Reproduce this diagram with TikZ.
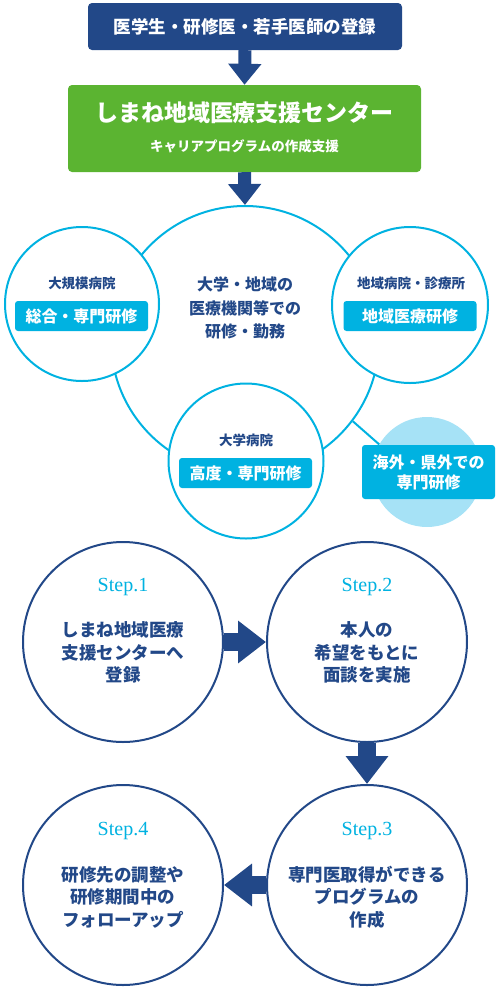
\documentclass[tikz,border=0pt]{standalone}
\usepackage{fontspec}
\setmainfont{Noto Sans CJK JP}
\newfontfamily\stepfont{Liberation Serif}
\usepackage{tikz}
\usetikzlibrary{arrows.meta, positioning}
\definecolor{care_navy}{RGB}{34, 72, 136}
\definecolor{care_green}{RGB}{91, 180, 49}
\definecolor{care_cyan}{RGB}{0, 178, 225}
\definecolor{care_light}{RGB}{166, 226, 246}

\begin{document}
\begin{tikzpicture}[x=1pt, y=-1pt,
        regbox/.style={rectangle, fill=care_navy, rounded corners=4pt, inner sep=0pt,
                       minimum width=314pt, minimum height=47pt},
        greenbox/.style={rectangle, fill=care_green, rounded corners=4pt, inner sep=0pt,
                         minimum width=353pt, minimum height=87pt},
        ring/.style={circle, draw=care_cyan, line width=2pt, fill=white, inner sep=0pt},
        tag/.style={rectangle, fill=care_cyan, rounded corners=3pt, inner sep=0pt,
                    minimum width=133pt, minimum height=30pt, text=white,
                    font=\fontsize{16}{20}\selectfont\bfseries},
        place/.style={text=care_navy, inner sep=0pt, font=\fontsize{13.5}{16}\selectfont\bfseries},
        stepring/.style={circle, draw=care_navy, line width=2pt, fill=white, inner sep=0pt,
                         minimum size=200pt},
        steplabel/.style={text=care_cyan, inner sep=0pt, font=\fontsize{20}{22}\stepfont},
        steptext/.style={text=care_navy, inner sep=0pt, align=center,
                         font=\fontsize{17.5}{22.5}\selectfont\bfseries},
        blockarr/.style={draw=care_navy, line width=13pt, -{Triangle[width=32pt, length=21pt]}},
        steparr/.style={draw=care_navy, line width=18pt, -{Triangle[width=41pt, length=28pt]}},
      ]
        \useasboundingbox (0,0) rectangle (497,989);

        % registration and support centre
        \node[regbox] (reg) at (245, 26.5) {};
        \node[text=white, inner sep=0pt, font=\fontsize{17.5}{20}\selectfont\bfseries]
              (regtext) at (245, 26.5) {医学生・研修医・若手医師の登録};
        \node[greenbox] (centre) at (244.5, 128.5) {};
        \node[text=white, inner sep=0pt, font=\fontsize{23}{26}\selectfont\bfseries]
              (centretitle) at (244.5, 113) {しまね地域医療支援センター};
        \node[text=white, inner sep=0pt, font=\fontsize{13.5}{16}\selectfont\bfseries]
              (centresub) at (244.5, 146) {キャリアプログラムの作成支援};

        % training places
        \node[ring, fill=none, minimum size=268pt] (big) at (245, 340) {};
        \node[circle, fill=care_light, inner sep=0pt, minimum size=110pt] (abroad) at (427, 472) {};
        \draw[care_cyan, line width=2pt] (big.-37) -- (abroad.150);
        \node[ring, minimum size=154pt] (large) at (82, 304) {};
        \node[ring, minimum size=156pt] (local) at (410, 305) {};
        \node[ring, minimum size=155pt] (univ) at (246, 461) {};

        \node[steptext, font=\fontsize{16}{23.5}\selectfont\bfseries] (bigtext) at (245, 308)
              {大学・地域の\\医療機関等での\\研修・勤務};
        \node[place] (largename) at (82, 283) {大規模病院};
        \node[tag] (largetag) at (81.5, 316) {総合・専門研修};
        \node[place] (localname) at (411, 283) {地域病院・診療所};
        \node[tag] (localtag) at (410, 316) {地域医療研修};
        \node[place] (univname) at (246, 440) {大学病院};
        \node[tag] (univtag) at (245.5, 473) {高度・専門研修};
        \node[tag, minimum height=54pt, align=center] (abroadtag) at (428.5, 472)
              {海外・県外での\\専門研修};

        \draw[blockarr] (reg.south) -- (centre.north);
        \draw[blockarr] (centre.south) -- (big.north);

        % steps
        \node[stepring] (step1) at (123, 642) {};
        \node[stepring] (step2) at (367, 642) {};
        \node[stepring] (step3) at (367, 885) {};
        \node[stepring] (step4) at (123, 885) {};

        \node[steplabel] at (123, 587) {Step.1};
        \node[steplabel] at (367, 587) {Step.2};
        \node[steplabel] at (367, 831) {Step.3};
        \node[steplabel] at (123, 831) {Step.4};

        \node[steptext] at (123, 652.5) {しまね地域医療\\支援センターへ\\登録};
        \node[steptext] at (367, 652.5) {本人の\\希望をもとに\\面談を実施};
        \node[steptext] at (367, 897) {専門医取得ができる\\プログラムの\\作成};
        \node[steptext] at (123, 897) {研修先の調整や\\研修期間中の\\フォローアップ};

        \draw[steparr] (step1.east) -- (step2.west);
        \draw[steparr] (step2.south) -- (step3.north);
        \draw[steparr] (step3.west) -- (step4.east);
      \end{tikzpicture}
\end{document}
